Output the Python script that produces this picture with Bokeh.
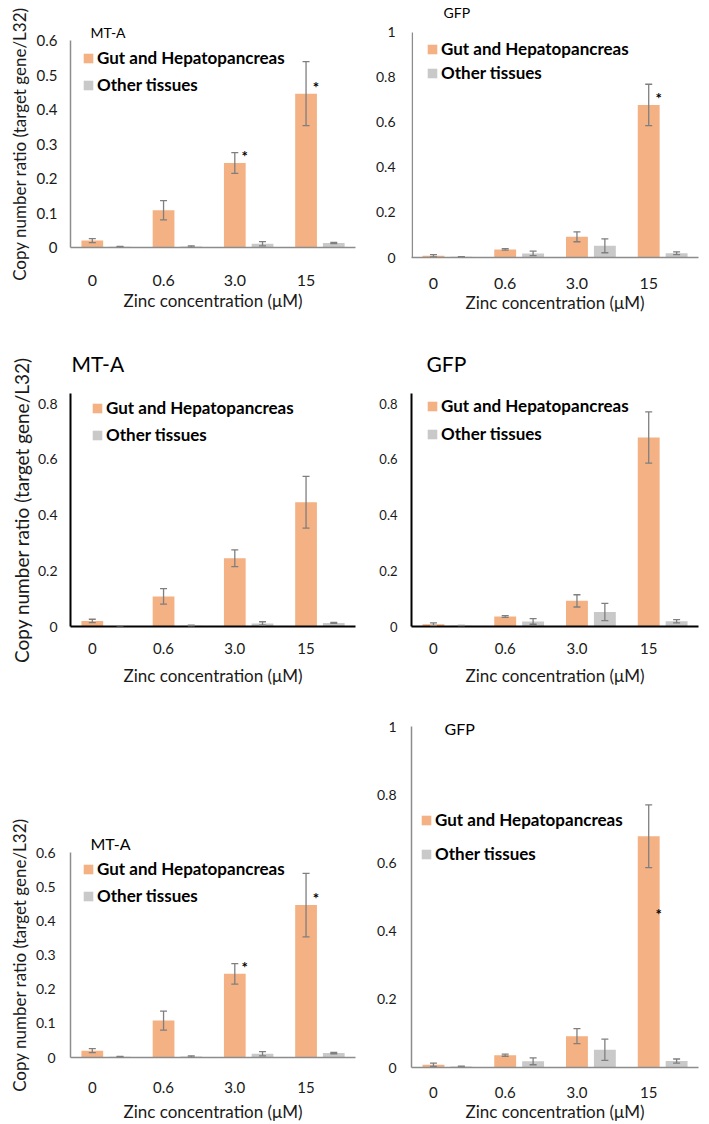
from bokeh.plotting import figure
from bokeh.models import (ColumnDataSource, FixedTicker, Whisker, TeeHead, Legend,
                          LegendItem, Label, Range1d, BasicTickFormatter)
from bokeh.layouts import row, column
from bokeh.embed import file_html
from bokeh.resources import INLINE
from bokeh.core.properties import value

# ---------------- data ----------------
concentrations = ["0", "0.6", "3.0", "15"]
groups = [0, 1, 2, 3]

mta_gut = [0.020, 0.108, 0.245, 0.446]
mta_gut_err = [0.006, 0.028, 0.030, 0.093]
mta_other = [0.002, 0.003, 0.011, 0.013]
mta_other_err = [0.001, 0.002, 0.006, 0.002]

gfp_gut = [0.008, 0.036, 0.092, 0.678]
gfp_gut_err = [0.005, 0.003, 0.022, 0.092]
gfp_other = [0.003, 0.018, 0.052, 0.019]
gfp_other_err = [0.001, 0.010, 0.031, 0.006]

mta_star_groups = [2, 3]
gfp_star_groups = [3]
gfp_bottom_star_level = [0.43]

mta_ticks_06 = [0, 0.1, 0.2, 0.3, 0.4, 0.5, 0.6]
ticks_08 = [0, 0.2, 0.4, 0.6, 0.8]
ticks_10 = [0, 0.2, 0.4, 0.6, 0.8, 1]

# ---------------- style ----------------
ORANGE = "#F4B183"
GRAY = "#C9C9C9"
ERR = "#7F7F7F"
FONT = "Lato"
TXT = "#1a1a1a"
OFFSET = 0.389
BAR_W = 0.305
X0, X1 = -0.306, 3.694


def make_panel(gut, gut_err, oth, oth_err, y_end, y_ticks, c):
    p = figure(width=c["w"], height=c["h"], x_range=Range1d(X0, X1),
               y_range=Range1d(0, y_end), output_backend="svg",
               toolbar_location=None, min_border_left=c["l"], min_border_right=c["r"],
               min_border_top=c["t"], min_border_bottom=c["b"])
    p.outline_line_color = None
    p.grid.visible = False
    p.background_fill_color = "white"
    p.border_fill_color = "white"

    gx = list(groups)
    ox = [g + OFFSET for g in groups]
    sg = ColumnDataSource(dict(x=gx, top=gut,
                               upper=[v + e for v, e in zip(gut, gut_err)],
                               lower=[v - e for v, e in zip(gut, gut_err)]))
    so = ColumnDataSource(dict(x=ox, top=oth,
                               upper=[v + e for v, e in zip(oth, oth_err)],
                               lower=[max(v - e, 0) for v, e in zip(oth, oth_err)]))
    rg = p.vbar(x="x", top="top", width=BAR_W, source=sg, fill_color=ORANGE, line_color=None)
    ro = p.vbar(x="x", top="top", width=BAR_W, source=so, fill_color=GRAY, line_color=None)
    for s in (sg, so):
        w = Whisker(source=s, base="x", upper="upper", lower="lower",
                    line_color=ERR, line_width=1.3, level="overlay",
                    upper_head=TeeHead(size=7, line_color=ERR, line_width=1.3),
                    lower_head=TeeHead(size=7, line_color=ERR, line_width=1.3))
        p.add_layout(w)

    # axes
    for ax in (p.xaxis[0], p.yaxis[0]):
        ax.axis_line_color = c["axc"]
        ax.axis_line_width = c["axw"]
        ax.major_tick_line_color = None
        ax.minor_tick_line_color = None
        ax.major_tick_out = 0
        ax.minor_tick_out = 0
        ax.major_tick_in = 0
        ax.minor_tick_in = 0
        ax.major_label_text_font = FONT
        ax.major_label_text_color = TXT
        ax.axis_label_text_font = FONT
        ax.axis_label_text_font_style = "normal"
        ax.axis_label_text_color = TXT
    p.xaxis.ticker = FixedTicker(ticks=groups)
    p.xaxis.major_label_overrides = {g: lab for g, lab in zip(groups, concentrations)}
    p.xaxis.major_label_text_font_size = c["xfs"]
    p.xaxis.major_label_standoff = c["xso"] + 6
    p.xaxis.axis_label = "Zinc concentration (\u03bcM)"
    p.xaxis.axis_label_text_font_size = "17px"
    p.xaxis.axis_label_standoff = c["xlso"]

    p.yaxis.ticker = FixedTicker(ticks=y_ticks)
    p.yaxis.formatter = BasicTickFormatter(precision=1)
    p.yaxis.major_label_overrides = {0: "0", 1: "1"}
    p.yaxis.major_label_text_font_size = c["yfs"]
    p.yaxis.major_label_standoff = c["yso"]
    if c.get("ylab"):
        p.yaxis.axis_label = "Copy number ratio (target gene/L32)"
        p.yaxis.axis_label_text_font_size = c["ylab"]
        p.yaxis.axis_label_standoff = c["ylso"]

    # y axis line drawn only up to the top tick when the frame is taller
    if c.get("axis_top") is not None:
        p.yaxis.axis_line_color = None
        p.segment(x0=[X0 + 0.011], y0=[0], x1=[X0 + 0.011], y1=[c["axis_top"]],
                  line_color=c["axc"], line_width=c["axw"])

    # title
    if c.get("label_title"):
        p.add_layout(Label(x=X0, y=c["axis_top"], x_offset=c["tdx"], y_offset=c["tdy"],
                           text=c["title"], text_font=FONT, text_font_size=c["tfs"],
                           text_color="black", text_baseline="middle", text_align="left"))
    else:
        p.title.text = c["title"]
        p.title.align = "left"
        p.title.offset = c["tdx"]
        p.title.standoff = c["tdy"]
        p.title.text_font = FONT
        p.title.text_font_size = c["tfs"]
        p.title.text_font_style = "normal"
        p.title.text_color = "black"

    # legend
    leg = Legend(items=[LegendItem(label="Gut and Hepatopancreas", renderers=[rg]),
                        LegendItem(label="Other tissues", renderers=[ro])],
                 location=c["loc"], glyph_width=12, glyph_height=12, label_standoff=3,
                 spacing=c["sp"] - 1, padding=0, margin=0, border_line_color=None,
                 background_fill_alpha=0, label_text_font=FONT,
                 label_text_font_style="bold", label_text_font_size="17px",
                 label_height=21, label_text_color="black")
    p.add_layout(leg)

    # significance stars
    if c.get("stars"):
        sx, sy = c["stars"]
        ss = ColumnDataSource(dict(x=[g + 0.14 for g in sx], y=sy, t=["*"] * len(sx)))
        p.text(x="x", y="y", text="t", source=ss, text_font=value(FONT),
               text_font_size="15px", text_font_style="bold", text_color="black",
               text_align="center", text_baseline="middle", y_offset=-7)
    return p


p1 = make_panel(mta_gut, mta_gut_err, mta_other, mta_other_err, 0.6, mta_ticks_06, dict(
    w=360, h=320, l=70, r=2, t=40, b=73, axc="#8C8C8C", axw=1.5,
    xfs="16px", xso=21, xlso=1, yfs="15px", yso=13, ylab="17px", ylso=4,
    title="MT-A", tfs="14px", tdx=20, tdy=0, loc=(12, 152), sp=7,
    stars=(mta_star_groups, [mta_gut[g] for g in mta_star_groups])))

# frame extends above the "1" tick so the title can sit inside it
p2 = make_panel(gfp_gut, gfp_gut_err, gfp_other, gfp_other_err, 1.1333, ticks_10, dict(
    w=349, h=320, l=51, r=7, t=2, b=63, axc="#8C8C8C", axw=1.5,
    xfs="16px", xso=14, xlso=0, yfs="14px", yso=16, axis_top=1.0, label_title=True,
    title="GFP", tfs="14px", tdx=32, tdy=20, loc=(15, 174), sp=4,
    stars=(gfp_star_groups, [gfp_gut[g] for g in gfp_star_groups])))

p3 = make_panel(mta_gut, mta_gut_err, mta_other, mta_other_err, 0.836, ticks_08, dict(
    w=360, h=380, l=66, r=5, t=73, b=74, axc="black", axw=2,
    xfs="15px", xso=10, xlso=8, yfs="14px", yso=13, ylab="19px", ylso=2,
    title="MT-A", tfs="21px", tdx=1, tdy=35, loc=(21, 181), sp=7))

p4 = make_panel(gfp_gut, gfp_gut_err, gfp_other, gfp_other_err, 0.836, ticks_08, dict(
    w=349, h=380, l=47, r=10, t=73, b=74, axc="black", axw=2,
    xfs="15px", xso=10, xlso=8, yfs="13px", yso=14,
    title="GFP", tfs="21px", tdx=15, tdy=35, loc=(15, 182), sp=8))

p5 = make_panel(mta_gut, mta_gut_err, mta_other, mta_other_err, 0.6, mta_ticks_06, dict(
    w=360, h=424, l=67, r=5, t=152, b=66, axc="#8C8C8C", axw=1.5,
    xfs="15px", xso=18, xlso=5, yfs="14px", yso=15, ylab="17px", ylso=3,
    title="MT-A", tfs="16px", tdx=20, tdy=0, loc=(12, 151), sp=7,
    stars=(mta_star_groups, [mta_gut[g] for g in mta_star_groups])))

p6 = make_panel(gfp_gut, gfp_gut_err, gfp_other, gfp_other_err, 1.0, ticks_10, dict(
    w=349, h=424, l=47, r=11, t=26, b=56, axc="#8C8C8C", axw=1.5,
    xfs="15px", xso=13, xlso=0, yfs="14px", yso=15,
    title="GFP", tfs="16px", tdx=33, tdy=-23, loc=(9, 203), sp=14,
    stars=(gfp_star_groups, gfp_bottom_star_level)))

layout = row(column(p1, p3, p5), column(p2, p4, p6))
open("out.html", "w").write(file_html(layout, INLINE))
